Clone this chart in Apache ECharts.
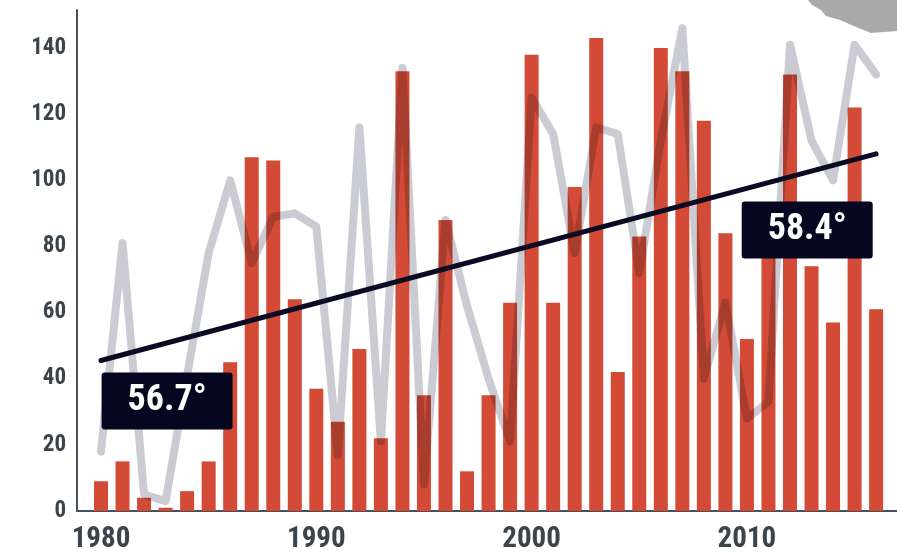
<!DOCTYPE html>
<html>
<head>
<meta charset="utf-8">
<script src="https://cdn.jsdelivr.net/npm/echarts@6/dist/echarts.min.js"></script>
<style>
  html, body { margin: 0; padding: 0; background: #fff; }
  #chart { width: 897px; height: 554px; }
</style>
</head>
<body>
<div id="chart"></div>
<script>
// years 1980 - 2016
var years = [];
for (var y = 1980; y <= 2016; y++) years.push(y);

// red bars
var barValues = [9, 15, 4, 1, 6, 15, 45, 107, 106, 64,
                 37, 27, 49, 22, 133, 35, 88, 12, 35, 63,
                 138, 63, 98, 143, 42, 83, 140, 133, 118, 84,
                 52, 80, 132, 74, 57, 122, 61];

// grey line
var lineValues = [18, 81, 5, 3, 41, 78, 100, 75, 89, 90,
                  86, 17, 116, 21, 134, 8, 88, 62, 40, 21,
                  125, 114, 78, 116, 114, 72, 112, 146, 40, 63,
                  28, 33, 141, 112, 100, 141, 132];

// trend line ends
var trendStart = [1980, 45.5];
var trendEnd = [2016, 108];

// temperature boxes
var boxLabels = ['56.7°', '58.4°'];
var boxPos = [[1983.07, 33.3], [2012.8, 85]];

var xTicks = [1980, 1990, 2000, 2010];

var font = '"Roboto Condensed", "Liberation Sans Narrow", Roboto, sans-serif';

var barData = years.map(function (yr, i) { return [yr, barValues[i]]; });
var lineData = years.map(function (yr, i) { return [yr, lineValues[i]]; });
var boxData = boxLabels.map(function (t, i) { return { value: boxPos[i], name: t }; });

var chart = echarts.init(document.getElementById('chart'));

var option = {
    backgroundColor: '#fff',
    animation: false,
    grid: { left: 77, right: 0, top: 10, bottom: 43 },
    xAxis: {
        type: 'value',
        min: 1978.885,
        max: 2016.97,
        axisLine: { show: true, lineStyle: { color: '#48505a', width: 2 } },
        axisTick: { show: false },
        splitLine: { show: false },
        axisLabel: {
            customValues: xTicks,
            formatter: function (v) { return String(v); },
            color: '#3b434d',
            fontFamily: font,
            fontWeight: 'bold',
            fontSize: 29,
            margin: 14
        }
    },
    yAxis: {
        type: 'value',
        min: 0,
        max: 151.5,
        interval: 20,
        axisLine: { show: true, lineStyle: { color: '#48505a', width: 2 } },
        axisTick: { show: false },
        splitLine: { show: false },
        axisLabel: {
            showMaxLabel: false,
            color: '#3b434d',
            fontFamily: font,
            fontWeight: 'bold',
            fontSize: 23,
            margin: 11
        }
    },
    series: [
        {
            type: 'bar',
            data: barData,
            barWidth: 14,
            itemStyle: { color: '#d34b36' },
            z: 2
        },
        {
            type: 'line',
            data: lineData,
            symbol: 'none',
            blendMode: 'multiply',
            lineStyle: { color: '#cbcbd4', width: 8, cap: 'round', join: 'round' },
            z: 3
        },
        {
            type: 'line',
            data: [trendStart, trendEnd],
            symbol: 'none',
            lineStyle: { color: '#0b0b24', width: 5, cap: 'round' },
            z: 4
        },
        {
            type: 'scatter',
            data: boxData,
            symbolSize: 1,
            itemStyle: { color: 'transparent', opacity: 1 },
            z: 5,
            label: {
                show: true,
                position: 'inside',
                formatter: '{b}',
                width: 131,
                height: 57,
                lineHeight: 57,
                align: 'center',
                verticalAlign: 'middle',
                backgroundColor: '#05061f',
                borderRadius: 3,
                color: '#fff',
                opacity: 1,
                fontFamily: font,
                fontWeight: 'bold',
                fontSize: 36
            }
        }
    ],
    graphic: [
        {
            type: 'polygon',
            shape: {
                points: [[808, 0], [812, 5], [821, 10], [826, 16], [840, 20],
                         [856, 27], [871, 33], [897, 31], [897, 0]]
            },
            style: { fill: '#a9a9a9' },
            z: 10
        }
    ]
};

option && chart.setOption(option);
</script>
</body>
</html>
